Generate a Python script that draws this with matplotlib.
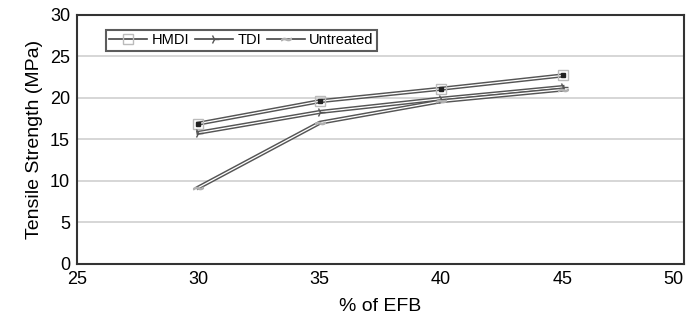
import matplotlib
matplotlib.use("Agg")
import matplotlib.pyplot as plt
from matplotlib.lines import Line2D
import matplotlib.patheffects as pe

plt.rcParams['font.family'] = ['Liberation Sans', 'DejaVu Sans']

# tensile strength vs EFB loading for each treatment
efb = [30, 35, 40, 45]
hmdi = [16.9, 19.6, 21.1, 22.7]
tdi = [15.8, 18.3, 19.9, 21.3]
untreated = [9.2, 17.0, 19.6, 21.0]

series = [
    ("HMDI", hmdi, "s", "#bbbbbb"),
    ("TDI", tdi, "4", "#555555"),
    ("Untreated", untreated, "$\\sim$", "#b0b0b0"),
]

fig = plt.figure(figsize=(6.88, 3.23), dpi=100)
ax = fig.add_axes([0.112, 0.183, 0.882, 0.771])

# hollow-looking lines: dark stroke with a thin white core
outline = [pe.Stroke(linewidth=3.0, foreground="#555555"), pe.Normal()]
handles = []
for name, vals, mk, mcol in series:
    ax.plot(efb, vals, color="white", lw=0.9, path_effects=outline, zorder=3)
    ax.plot(efb, vals, ls="none", marker=mk, ms=7, mfc="none" if mk == "s" else mcol,
            mec=mcol, mew=1.0, zorder=4)
    if name == "HMDI":
        ax.plot(efb, vals, ls="none", marker="s", ms=2.5, color="#222222", zorder=5)
    handles.append(Line2D([], [], color="#444444", lw=1.2, marker=mk, ms=7,
                          mfc="none" if mk == "s" else mcol, mec=mcol))

ax.set_xlim(25, 50)
ax.set_ylim(0, 30)
ax.set_xticks([25, 30, 35, 40, 45, 50])
ax.set_yticks(range(0, 31, 5))
ax.yaxis.grid(True, color="#d0d0d0", lw=1.2)
ax.set_axisbelow(True)
ax.tick_params(length=0, labelsize=13, pad=5)
ax.get_xticklabels()[-1].set_horizontalalignment("right")
for s in ax.spines.values():
    s.set_color("#333333")
    s.set_linewidth(1.5)

ax.set_xlabel("% of EFB", fontsize=14, labelpad=7)
ax.set_ylabel("Tensile Strength (MPa)", fontsize=14, labelpad=5)

leg = ax.legend(handles, [s[0] for s in series], loc="upper left", ncol=3,
                bbox_to_anchor=(0.035, 0.97), fontsize=10.5, frameon=True,
                fancybox=False, handlelength=2.6, handletextpad=0.3,
                columnspacing=0.4, borderpad=0.25)
leg.get_frame().set_edgecolor("#333333")
leg.get_frame().set_linewidth(1.5)

fig.savefig("out.png", dpi=100)
